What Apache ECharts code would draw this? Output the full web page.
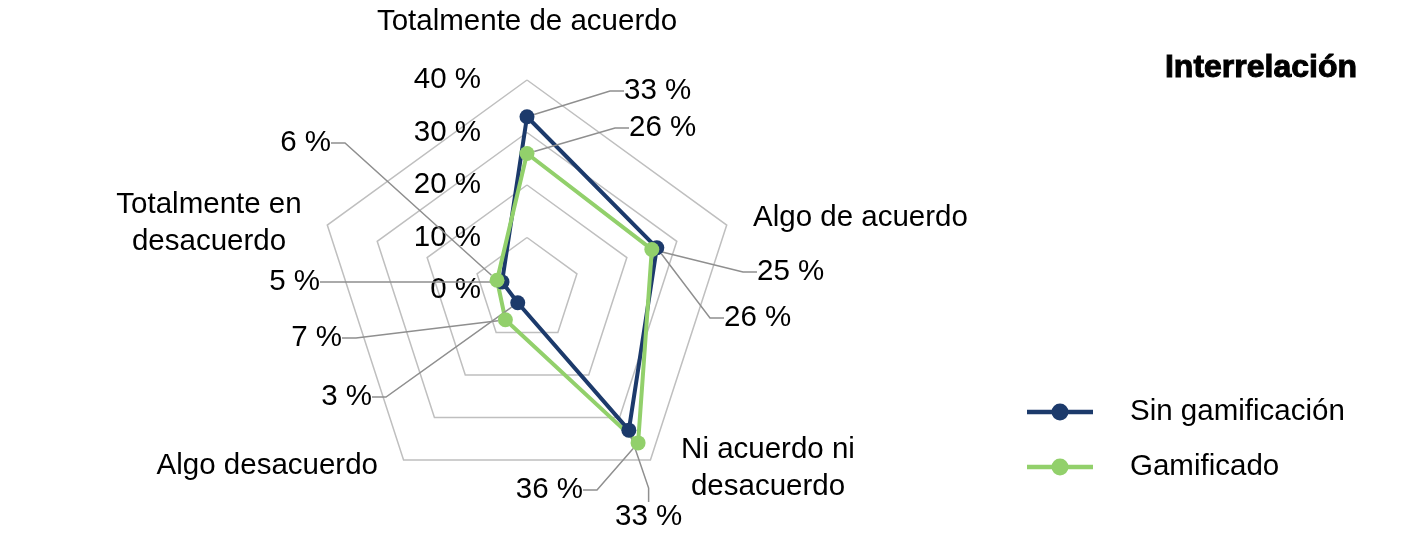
<!DOCTYPE html>
<html>
<head>
<meta charset="utf-8">
<script src="https://cdn.jsdelivr.net/npm/echarts@6/dist/echarts.min.js"></script>
<style>
  html, body { margin: 0; padding: 0; background: #fff; }
  #chart { width: 1425px; height: 540px; }
</style>
</head>
<body>
<div id="chart"></div>
<script>
// data, in the natural Likert order (clockwise from the top in the picture)
const categories = ['Totalmente de acuerdo', 'Algo de acuerdo', 'Ni acuerdo ni\ndesacuerdo', 'Algo desacuerdo', 'Totalmente en\ndesacuerdo']
const sinGamificacion = [33, 26, 33, 3, 5]
const gamificado = [26, 25, 36, 7, 6]
const seriesNames = ['Sin gamificación', 'Gamificado']
const axisMax = 40
const axisStep = 10
const chartTitle = 'Interrelación'

const colors = ['#1c3a6b', '#92d06b']
const FONT = '"Liberation Sans", Arial, sans-serif'
const cx = 527
const cy = 290
const radius = 210

// echarts puts radar indicators counterclockwise, the picture runs clockwise
const order = [0, 4, 3, 2, 1]
const toRadar = arr => order.map(i => arr[i])

// value label spots [x, y, align] per series, per category
const labelSpots = [
  [[624, 91, 'left'], [724, 318, 'left'], [615, 517, 'left'], [372, 397, 'right'], [320, 282, 'right']],
  [[629, 128, 'left'], [757, 272, 'left'], [583, 490, 'right'], [342, 338, 'right'], [331, 143, 'right']]
]
// category name spots [x, y, align]
const nameSpots = [[527, 22, 'center'], [753, 218, 'left'], [768, 468, 'center'], [378, 466, 'right'], [209, 223, 'center']]

const textBase = { fontSize: 29.5, fontFamily: FONT, color: '#000' }

function pickSpot(p) {
  const hx = p.rect.x + p.rect.width / 2
  const hy = p.rect.y + p.rect.height / 2
  const ang = Math.atan2(cy - hy, hx - cx) * 180 / Math.PI
  let k = Math.round((90 - ang) / 72)
  k = ((k % 5) + 5) % 5
  const s = labelSpots[p.seriesIndex][k]
  return { x: s[0], y: s[1], align: s[2], verticalAlign: 'middle' }
}

const indicators = toRadar(categories).map((n, i) => {
  const ind = { name: n, min: 0, max: axisMax }
  if (i === 0) {
    ind.axisLabel = { show: true, formatter: '{value} %', margin: 46, ...textBase }
  }
  return ind
})

const makeSeries = (idx, values) => ({
  type: 'radar',
  name: seriesNames[idx],
  symbol: 'circle',
  symbolSize: 15,
  label: { show: true, formatter: '{c} %', ...textBase },
  labelLine: { show: true, length2: 14, lineStyle: { color: '#8f8f8f', width: 1.5 } },
  labelLayout: pickSpot,
  data: [{
    name: seriesNames[idx],
    value: toRadar(values),
    itemStyle: { color: colors[idx] },
    lineStyle: { color: colors[idx], width: 4 }
  }]
})

const option = {
  animation: false,
  color: colors,
  title: {
    text: chartTitle,
    right: 62,
    top: 47,
    textStyle: {
      fontSize: 32, fontWeight: 'bold', fontFamily: FONT, color: '#000',
      textBorderColor: '#000', textBorderWidth: 1
    }
  },
  legend: {
    orient: 'vertical',
    left: 1027,
    top: 395,
    padding: 0,
    itemWidth: 66,
    itemHeight: 17,
    itemGap: 21,
    icon: 'path://M0,6.3L66,6.3L66,10.7L0,10.7Z M41.5,8.5A8.5,8.5 0 1,1 24.5,8.5A8.5,8.5 0 1,1 41.5,8.5Z',
    textStyle: { ...textBase, lineHeight: 34, padding: [0, 0, 0, 32] },
    data: seriesNames
  },
  radar: {
    center: [cx, cy],
    radius: radius,
    startAngle: 90,
    shape: 'polygon',
    splitNumber: axisMax / axisStep,
    indicator: indicators,
    axisName: { show: false },
    axisLine: { show: false },
    axisTick: { show: false },
    axisLabel: { show: false },
    splitLine: { lineStyle: { color: '#bfbfbf', width: 1.5 } },
    splitArea: { show: false }
  },
  graphic: categories.map((c, i) => ({
    type: 'text',
    x: nameSpots[i][0],
    y: nameSpots[i][1],
    style: {
      text: c,
      fontSize: 29.5,
      fontFamily: FONT,
      fill: '#000',
      lineHeight: 37,
      align: nameSpots[i][2],
      verticalAlign: 'middle'
    }
  })),
  series: [makeSeries(0, sinGamificacion), makeSeries(1, gamificado)]
}

const chart = echarts.init(document.getElementById('chart'))
chart.setOption(option)
window.addEventListener('resize', () => chart.resize())
</script>
</body>
</html>
